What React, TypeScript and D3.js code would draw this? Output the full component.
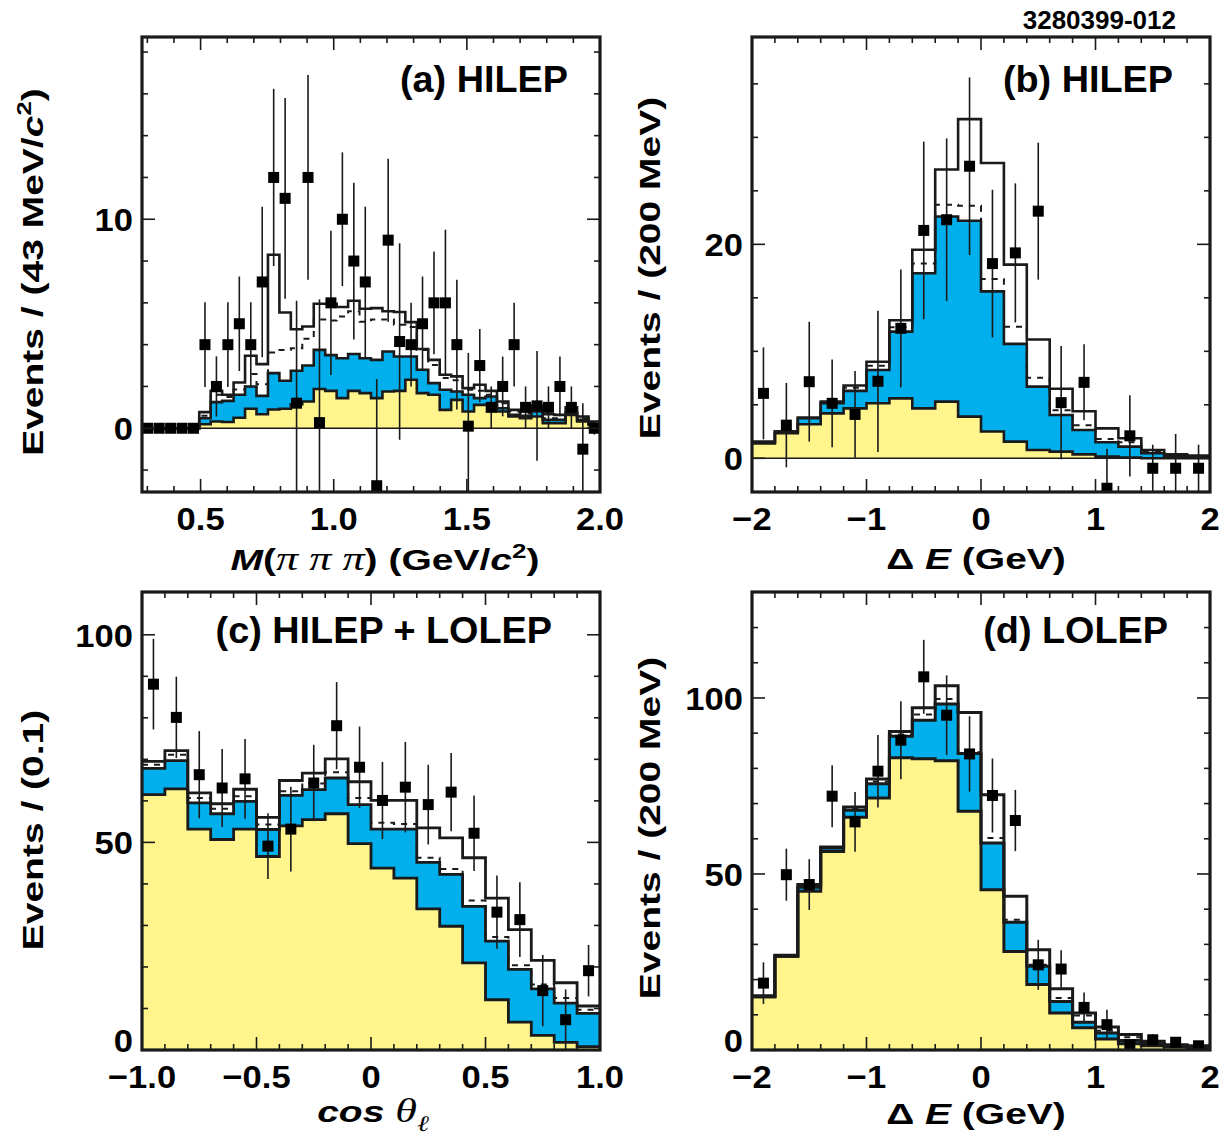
import React from 'react';
import * as d3 from 'd3';

// ---------- (a) HILEP, M(πππ), 43 MeV bins from 0.28 to 2.0 GeV ----------
const massBinStart = 0.28;
const massBinWidth = 0.043;
const massData = [0, 0, 0, 0, 0, 4, 2, 4, 5, 4, 7, 12, 11, 1.2, 12, 0.27, 6, 10, 8, 7,
  -2.75, 9, 4.15, 4, 5, 6, 6, 4, 0.1, 3, 1, 2, 4, 1, 1.07, 1, 2, 1, -1, 0];
const massErr = [0, 0, 0, 0, 0, 2.03, 1.44, 2.03, 2.26, 2.03, 3.6, 4.24, 4.8, 4.9, 4.9, 5.9, 3.45, 3.2, 3.75, 3.6,
  5.1, 3.9, 4.7, 2.0, 2.26, 2.46, 3.5, 3.1, 3.5, 1.75, 1.0, 1.43, 2.0, 1.0, 2.63, 1.0, 1.43, 1.0, 2.2, 0.3];
const massYellow = [0, 0, 0, 0, 0, 0.19, 0.32, 0.3, 0.5, 0.93, 0.67, 0.9, 0.93, 1.15, 1.28, 1.88, 1.79, 1.44, 1.79, 1.68,
  1.44, 1.76, 1.79, 2.32, 1.68, 1.6, 0.88, 1.36, 0.8, 1.12, 1.12, 0.8, 0.56, 0.48, 0.56, 0.24, 0.24, 0.64, 0.32, 0.16];
const massBlue = [0, 0, 0, 0, 0, 0.48, 1.25, 1.31, 1.6, 2.0, 1.55, 2.64, 2.27, 2.75, 3.0, 3.75, 3.5, 3.35, 3.55, 3.35,
  3.27, 3.67, 3.43, 3.43, 2.8, 2.16, 1.84, 1.76, 1.6, 1.44, 1.52, 0.96, 0.64, 0.6, 0.8, 0.4, 0.4, 0.75, 0.4, 0.2];
const massDashed = [0, 0, 0, 0, 0, 0.6, 1.6, 1.5, 1.85, 2.6, 2.1, 3.63, 3.75, 3.83, 4.28, 5.2, 5.15, 5.35, 5.6, 5.1,
  5.2, 5.2, 4.95, 4.84, 3.75, 3.03, 2.4, 2.3, 1.84, 1.79, 1.6, 1.2, 0.8, 0.72, 0.88, 0.48, 0.48, 0.88, 0.48, 0.24];
const massTotal = [0, 0, 0, 0, 0, 0.77, 1.79, 1.6, 2.19, 3.47, 3.07, 8.3, 5.54, 4.74, 4.87, 5.96, 5.96, 5.8, 6.1, 5.72,
  5.75, 5.6, 5.56, 5.08, 3.79, 3.27, 2.56, 2.48, 1.92, 2.08, 1.79, 1.28, 0.88, 0.88, 1.09, 0.67, 0.64, 1.0, 0.56, 0.32];

// ---------- (b) HILEP, ΔE, 200 MeV bins ----------
const deBinStart = -2;
const deBinWidth = 0.2;
const hiDeData = [6.07, 3.1, 7.16, 5.14, 4.1, 7.2, 12.15, 21.3, 22.3, 27.3, 18.2, 19.2, 23.1, 5.2, 7.1, -2.8, 2.1, -0.93, -0.93, -0.93];
const hiDeErr = [4.3, 3.95, 5.6, 4.1, 4.05, 6.6, 5.5, 8.3, 7.6, 8.3, 6.9, 6.5, 6.4, 5.3, 3.55, 3.7, 3.8, 2.2, 3.2, 2.2];
const hiDeYellow = [1.4, 2.34, 3.18, 4.2, 4.67, 5.14, 5.6, 4.67, 5.3, 3.9, 2.5, 1.56, 0.78, 0.62, 0.37, 0.16, 0.06, 0, 0, 0];
const hiDeBlue = [1.4, 2.5, 3.74, 5.14, 6.3, 8.26, 11.84, 17.3, 22.6, 22.2, 15.6, 10.7, 6.7, 4.05, 2.65, 1.5, 1.09, 0.47, 0.25, 0.12];
const hiDeDashed = [1.45, 2.5, 3.76, 5.2, 6.6, 8.66, 12.24, 18.2, 23.7, 23.6, 16.76, 12.3, 7.54, 4.5, 3.1, 1.8, 1.5, 0.6, 0.3, 0.15];
const hiDeTotal = [1.56, 2.5, 3.8, 5.3, 6.8, 9.03, 12.9, 19.5, 27.0, 31.7, 27.6, 18.1, 11.1, 6.5, 4.4, 2.8, 1.87, 0.78, 0.37, 0.25];

// ---------- (c) HILEP + LOLEP, cos θℓ, 0.1 bins ----------
const cosBinStart = -1;
const cosBinWidth = 0.1;
const cosData = [88.1, 80.1, 66.3, 63.1, 65.3, 49.1, 53.2, 64.3, 78.1, 68.1, 60.1, 63.3, 59.1, 62.1, 52.2, 33.2, 31.4, 14.3, 7.3, 19.1];
const cosErr = [10.9, 9.8, 10.5, 9.4, 9.6, 7.9, 10.2, 9.2, 10.5, 9.8, 9.3, 10.9, 9.6, 9.4, 9.1, 8.8, 9.0, 8.6, 7.3, 6.2];
const cosYellow = [61.5, 62.9, 53.2, 50.7, 53.2, 46.6, 54, 55.5, 56.9, 49.7, 43.8, 41.4, 34, 29.8, 21, 12.1, 6.7, 3.5, 1.85, 0.8];
const cosBlue = [67.8, 69.7, 59.5, 56.9, 59.9, 53.1, 61.3, 62.7, 65.5, 59.1, 53.2, 53.2, 45.2, 42.3, 34.6, 26.2, 19.4, 14.7, 11.3, 8.8];
const cosDashed = [68.7, 71.1, 60.7, 58.1, 61.1, 54.3, 62.3, 64.2, 66.9, 60.7, 54.7, 54.4, 46.3, 43.6, 36, 27.2, 20.4, 15.8, 12.5, 9.7];
const cosTotal = [69.5, 72.1, 61.9, 59.3, 62.8, 56, 64.9, 66.7, 70.1, 64.6, 60.1, 60.1, 53.5, 51.1, 46.3, 36.6, 29, 21.6, 16.2, 10.6];

// ---------- (d) LOLEP, ΔE, 200 MeV bins ----------
const loDeData = [19.0, 49.8, 47, 72.1, 64.8, 79.2, 88, 106, 95.1, 84.1, 72.3, 65.2, 24.2, 23, 12.1, 7.2, 1.5, 2.9, 2.2, 1.2];
const loDeErr = [5.9, 7.4, 7.2, 8.8, 8.5, 10.3, 11.1, 10.5, 11.3, 10.7, 10.5, 8.7, 7.1, 5.3, 4.2, 4.2, 1.3, 1.6, 1.5, 1.2];
const loDeYellow = [15.1, 26.6, 45.1, 56.4, 66.1, 71.6, 83, 82.7, 82.2, 67.8, 45.5, 28, 18.6, 10.5, 6.3, 3.1, 1.8, 1.2, 0.85, 0.5];
const loDeBlue = [15.1, 26.6, 46.2, 57.4, 68.1, 75.6, 89.1, 93.7, 98.3, 84.2, 58.8, 36.3, 23.8, 13.8, 7.9, 4.8, 2.7, 1.8, 1.0, 0.6];
const loDeDashed = [15.2, 26.7, 46.5, 57.6, 68.5, 76.3, 89.6, 95.3, 99.7, 84.6, 60.2, 37, 24.2, 14.8, 9.8, 5.5, 3.6, 2.1, 1.2, 0.8];
const loDeTotal = [15.4, 26.9, 47, 57.7, 69, 77, 90.5, 97.2, 103.5, 95.9, 72.5, 43.7, 28.5, 17.4, 10.5, 6.5, 4.4, 2.5, 1.5, 1.2];

// ---------- tick values and labels ----------
const massMinorTicks = [0.3, 0.4, 0.6, 0.7, 0.8, 0.9, 1.1, 1.2, 1.3, 1.4, 1.6, 1.7, 1.8, 1.9];
const massMajorTicks = [0.5, 1.0, 1.5];
const massTickLabels = ['0.5', '1.0', '1.5', '2.0'];
const massTickValues = [0.5, 1.0, 1.5, 2.0];
const massYMinor = [-2, 2, 4, 6, 8, 12, 14, 16, 18];
const massYMajor = [0, 10];
const massYLabels = ['0', '10'];

const deMinorTicks = [-1.8, -1.6, -1.4, -1.2, -0.8, -0.6, -0.4, -0.2, 0.2, 0.4, 0.6, 0.8, 1.2, 1.4, 1.6, 1.8];
const deMajorTicks = [-1, 0, 1];
const deTickValues = [-2, -1, 0, 1, 2];
const deTickLabels = ['\u22122', '\u22121', '0', '1', '2'];
const hiDeYMinor = [5, 10, 15, 25, 30, 35];
const hiDeYMajor = [0, 20];
const hiDeYLabels = ['0', '20'];
const loDeYMinor = [10, 20, 30, 40, 60, 70, 80, 90, 110, 120];
const loDeYMajor = [0, 50, 100];
const loDeYLabels = ['0', '50', '100'];

const cosMinorTicks = [-0.9, -0.8, -0.7, -0.6, -0.4, -0.3, -0.2, -0.1, 0.1, 0.2, 0.3, 0.4, 0.6, 0.7, 0.8, 0.9];
const cosMajorTicks = [-0.5, 0, 0.5];
const cosTickValues = [-1, -0.5, 0, 0.5, 1];
const cosTickLabels = ['\u22121.0', '\u22120.5', '0', '0.5', '1.0'];
const cosYMinor = [10, 20, 30, 40, 60, 70, 80, 90];
const cosYMajor = [0, 50, 100];
const cosYLabels = ['0', '50', '100'];

const SANS = '"Liberation Sans", Arial, Helvetica, sans-serif';
const SERIF = '"Liberation Serif", "DejaVu Serif", serif';
const SERIF_ELL = '"DejaVu Serif", serif';
const YELLOW = '#FFF58C';
const BLUE = '#00AFEC';
const INK = '#1a1a1a';

interface PanelProps {
  id: string;
  left: number; top: number; right: number; bottom: number;
  xDomain: [number, number];
  yDomain: [number, number];
  binStart: number; binWidth: number;
  data: number[]; err: number[];
  yellow: number[]; blue: number[]; dashed: number[]; total: number[];
  xMinor: number[]; xMajor: number[];
  yMinor: number[]; yMajor: number[];
  xTickValues: number[]; xTickLabels: string[];
  yTickValues: number[]; yTickLabels: string[];
  zeroLine: boolean;
  title: string; titleRight: number; titleBaseline: number;
  lineWidth: number;
}

function Panel(p: PanelProps) {
  const x = d3.scaleLinear().domain(p.xDomain).range([p.left, p.right]);
  const y = d3.scaleLinear().domain(p.yDomain).range([p.bottom, p.top]);
  const n = p.data.length;
  const edges = d3.range(n + 1).map((i) => p.binStart + i * p.binWidth);
  const centers = d3.range(n).map((i) => p.binStart + (i + 0.5) * p.binWidth);

  const stepPts = (vals: number[]) => edges.map((e, i) => [e, vals[Math.min(i, n - 1)]] as [number, number]);
  const line = d3.line<[number, number]>().x((d) => x(d[0])).y((d) => y(d[1])).curve(d3.curveStepAfter);
  const area = d3.area<[number, number, number]>()
    .x((d) => x(d[0])).y0((d) => y(d[1])).y1((d) => y(d[2])).curve(d3.curveStepAfter);
  const bandPts = (lo: number[] | null, hi: number[]) =>
    edges.map((e, i) => {
      const k = Math.min(i, n - 1);
      return [e, lo ? lo[k] : 0, hi[k]] as [number, number, number];
    });

  const clip = `clip-${p.id}`;
  const majorLen = 13;
  const minorLen = 6;
  const w = p.lineWidth;

  return (
    <g>
      <defs>
        <clipPath id={clip}>
          <rect x={p.left} y={p.top} width={p.right - p.left} height={p.bottom - p.top} />
        </clipPath>
      </defs>
      <g clipPath={`url(#${clip})`}>
        <path d={area(bandPts(null, p.yellow)) || ''} fill={YELLOW} />
        <path d={area(bandPts(p.yellow, p.blue)) || ''} fill={BLUE} />
        {p.zeroLine && (
          <line x1={p.left} x2={p.right} y1={y(0)} y2={y(0)} stroke={INK} strokeWidth={1.6} />
        )}
        <path d={line(stepPts(p.yellow)) || ''} fill="none" stroke={INK} strokeWidth={w} />
        <path d={line(stepPts(p.blue)) || ''} fill="none" stroke={INK} strokeWidth={w} />
        <path d={line(stepPts(p.dashed)) || ''} fill="none" stroke={INK} strokeWidth={2} strokeDasharray="6,6" />
        <path d={line(stepPts(p.total)) || ''} fill="none" stroke={INK} strokeWidth={w} />
        {centers.map((c, i) => (
          p.err[i] > 0 ? (
            <line key={`e${i}`} x1={x(c)} x2={x(c)} y1={y(p.data[i] - p.err[i])} y2={y(p.data[i] + p.err[i])}
              stroke={INK} strokeWidth={1.6} />
          ) : null
        ))}
        {centers.map((c, i) => (
          <rect key={`m${i}`} x={x(c) - 5.5} y={y(p.data[i]) - 5.5} width={11} height={11} fill="#000" />
        ))}
      </g>
      {/* ticks on all four sides */}
      {[...p.xMinor.map((v) => [v, minorLen]), ...p.xMajor.map((v) => [v, majorLen])].map(([v, len], i) => (
        <g key={`xt${i}`} stroke={INK} strokeWidth={1.6}>
          <line x1={x(v)} x2={x(v)} y1={p.bottom} y2={p.bottom - len} />
          <line x1={x(v)} x2={x(v)} y1={p.top} y2={p.top + len} />
        </g>
      ))}
      {[...p.yMinor.map((v) => [v, minorLen]), ...p.yMajor.map((v) => [v, majorLen])].map(([v, len], i) => (
        <g key={`yt${i}`} stroke={INK} strokeWidth={1.6}>
          <line x1={p.left} x2={p.left + len} y1={y(v)} y2={y(v)} />
          <line x1={p.right} x2={p.right - len} y1={y(v)} y2={y(v)} />
        </g>
      ))}
      <rect x={p.left} y={p.top} width={p.right - p.left} height={p.bottom - p.top}
        fill="none" stroke={INK} strokeWidth={3.2} />
      {p.xTickValues.map((v, i) => (
        <text key={`xl${i}`} transform={`translate(${x(v)},${p.bottom + 38}) scale(1.08,1)`}
          textAnchor="middle" fontFamily={SANS} fontWeight="bold" fontSize={32} fill="#000">
          {p.xTickLabels[i]}
        </text>
      ))}
      {p.yTickValues.map((v, i) => (
        <text key={`yl${i}`} transform={`translate(${p.left - 9},${Math.min(y(v), p.bottom - 10) + 12}) scale(1.08,1)`}
          textAnchor="end" fontFamily={SANS} fontWeight="bold" fontSize={32} fill="#000">
          {p.yTickLabels[i]}
        </text>
      ))}
      <text transform={`translate(${p.titleRight},${p.titleBaseline}) scale(1.05,1)`} textAnchor="end"
        fontFamily={SANS} fontWeight="bold" fontSize={36} fill="#000">
        {p.title}
      </text>
    </g>
  );
}

function AxisTitle({ x, y, rotate = 0, children }: { x: number; y: number; rotate?: number; children: React.ReactNode }) {
  return (
    <text transform={`translate(${x},${y}) rotate(${rotate}) scale(1.3,1)`} textAnchor="middle"
      fontFamily={SANS} fontWeight="bold" fontSize={30} fill="#000">
      {children}
    </text>
  );
}

export default function App() {
  return (
    <svg width={1229} height={1147} viewBox="0 0 1229 1147"
      style={{ position: 'absolute', left: 0, top: 0, display: 'block', background: '#fff' }}>
      <rect x={0} y={0} width={1229} height={1147} fill="#fff" />
      <text x={1176} y={29} textAnchor="end" fontFamily={SANS} fontWeight="bold" fontSize={26} fill="#000">
        3280399-012
      </text>

      <Panel id="a" left={142} top={37} right={600} bottom={492}
        xDomain={[0.28, 2.0]} yDomain={[-3.05, 18.72]}
        binStart={massBinStart} binWidth={massBinWidth}
        data={massData} err={massErr} yellow={massYellow} blue={massBlue} dashed={massDashed} total={massTotal}
        xMinor={massMinorTicks} xMajor={massMajorTicks} yMinor={massYMinor} yMajor={massYMajor}
        xTickValues={massTickValues} xTickLabels={massTickLabels}
        yTickValues={massYMajor} yTickLabels={massYLabels}
        zeroLine={true} title="(a) HILEP" titleRight={568} titleBaseline={92} lineWidth={2.6} />

      <Panel id="b" left={752} top={37} right={1210} bottom={492}
        xDomain={[-2, 2]} yDomain={[-3.15, 39.38]}
        binStart={deBinStart} binWidth={deBinWidth}
        data={hiDeData} err={hiDeErr} yellow={hiDeYellow} blue={hiDeBlue} dashed={hiDeDashed} total={hiDeTotal}
        xMinor={deMinorTicks} xMajor={deMajorTicks} yMinor={hiDeYMinor} yMajor={hiDeYMajor}
        xTickValues={deTickValues} xTickLabels={deTickLabels}
        yTickValues={hiDeYMajor} yTickLabels={hiDeYLabels}
        zeroLine={true} title="(b) HILEP" titleRight={1173} titleBaseline={92} lineWidth={2.6} />

      <Panel id="c" left={142} top={592} right={600} bottom={1050}
        xDomain={[-1, 1]} yDomain={[0, 110.3]}
        binStart={cosBinStart} binWidth={cosBinWidth}
        data={cosData} err={cosErr} yellow={cosYellow} blue={cosBlue} dashed={cosDashed} total={cosTotal}
        xMinor={cosMinorTicks} xMajor={cosMajorTicks} yMinor={cosYMinor} yMajor={cosYMajor}
        xTickValues={cosTickValues} xTickLabels={cosTickLabels}
        yTickValues={cosYMajor} yTickLabels={cosYLabels}
        zeroLine={false} title="(c) HILEP + LOLEP" titleRight={552} titleBaseline={643} lineWidth={2.8} />

      <Panel id="d" left={752} top={592} right={1210} bottom={1050}
        xDomain={[-2, 2]} yDomain={[0, 130.1]}
        binStart={deBinStart} binWidth={deBinWidth}
        data={loDeData} err={loDeErr} yellow={loDeYellow} blue={loDeBlue} dashed={loDeDashed} total={loDeTotal}
        xMinor={deMinorTicks} xMajor={deMajorTicks} yMinor={loDeYMinor} yMajor={loDeYMajor}
        xTickValues={deTickValues} xTickLabels={deTickLabels}
        yTickValues={loDeYMajor} yTickLabels={loDeYLabels}
        zeroLine={false} title="(d) LOLEP" titleRight={1168} titleBaseline={643} lineWidth={3} />

      {/* axis titles */}
      <AxisTitle x={43} y={272} rotate={-90}>
        Events / (43 MeV/<tspan fontStyle="italic">c</tspan>
        <tspan dy={-12} fontSize={20}>2</tspan><tspan dy={12}>)</tspan>
      </AxisTitle>
      <AxisTitle x={660} y={268} rotate={-90}>Events / (200 MeV)</AxisTitle>
      <AxisTitle x={43} y={830} rotate={-90}>Events / (0.1)</AxisTitle>
      <AxisTitle x={660} y={828} rotate={-90}>Events / (200 MeV)</AxisTitle>

      <AxisTitle x={385} y={570}>
        <tspan fontStyle="italic">M</tspan>(<tspan fontFamily={SERIF} fontStyle="italic" fontWeight="normal" fontSize={34}>π π π</tspan>) (GeV/<tspan fontStyle="italic">c</tspan>
        <tspan dy={-12} fontSize={20}>2</tspan><tspan dy={12}>)</tspan>
      </AxisTitle>
      <AxisTitle x={976} y={569}>
        Δ <tspan fontStyle="italic">E</tspan> (GeV)
      </AxisTitle>
      <AxisTitle x={373} y={1122}>
        <tspan fontStyle="italic">cos </tspan>
        <tspan fontFamily={SERIF} fontStyle="italic" fontWeight="normal" fontSize={34}>θ</tspan>
        <tspan fontFamily={SERIF_ELL} fontStyle="italic" fontWeight="normal" fontSize={22} dy={9}>ℓ</tspan>
      </AxisTitle>
      <AxisTitle x={976} y={1124}>
        Δ <tspan fontStyle="italic">E</tspan> (GeV)
      </AxisTitle>
    </svg>
  );
}
